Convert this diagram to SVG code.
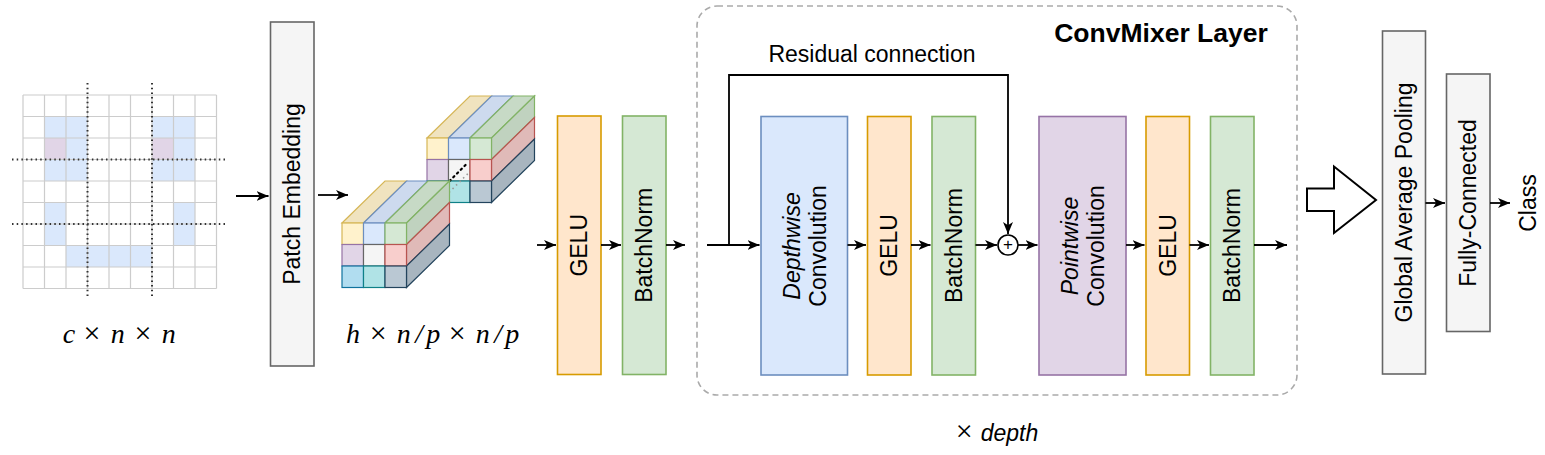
<svg xmlns="http://www.w3.org/2000/svg" width="1545" height="455" viewBox="0 0 1545 455">
<defs>
<marker id="ah" markerUnits="userSpaceOnUse" markerWidth="13" markerHeight="11" refX="12" refY="5.5" orient="auto">
<path d="M0,0.5 L12,5.5 L0,10.5 L3.2,5.5 Z" fill="#000"/>
</marker>
<style>
.t{font-family:"Liberation Sans",Arial,sans-serif;font-size:23px;fill:#000}
.m{font-family:"Liberation Serif","Times New Roman",serif;font-size:28px;fill:#000;text-anchor:middle}
.mi{font-style:italic}
.x{font-size:30px}
.box{stroke-width:1.6}
.gelu{fill:#ffe6cc;stroke:#d79b00}
.bn{fill:#d5e8d4;stroke:#82b366}
.gray{fill:#f5f5f5;stroke:#666666}
.dw{fill:#dae8fc;stroke:#6c8ebf}
.pw{fill:#e1d5e7;stroke:#9673a6}
.conn{fill:none;stroke:#000;stroke-width:1.8}
.dot{fill:none;stroke:#333;stroke-width:2;stroke-dasharray:1.5 3.2}
.c{stroke-width:1.2}
</style>
</defs>

<g id="input-grid">
<g fill="#dae8fc">
<rect x="44.5" y="116.5" width="43" height="21.5"/>
<rect x="152" y="116.5" width="43" height="21.5"/>
<rect x="66" y="138" width="21.5" height="21.5"/>
<rect x="173.5" y="138" width="21.5" height="21.5"/>
<rect x="44.5" y="159.5" width="43" height="21.5"/>
<rect x="152" y="159.5" width="43" height="21.5"/>
<rect x="44.5" y="202.5" width="21.5" height="43"/>
<rect x="173.5" y="202.5" width="21.5" height="43"/>
<rect x="66" y="245.5" width="86" height="21.5"/>
</g>
<g fill="#e1d5e7">
<rect x="44.5" y="138" width="21.5" height="21.5"/>
<rect x="152" y="138" width="21.5" height="21.5"/>
</g>
<path fill="none" stroke="#cccccc" stroke-width="1.2" d="M23,95V288.5M44.5,95V288.5M66,95V288.5M87.5,95V288.5M109,95V288.5M130.5,95V288.5M152,95V288.5M173.5,95V288.5M195,95V288.5M216.5,95V288.5M23,95H216.5M23,116.5H216.5M23,138H216.5M23,159.5H216.5M23,181H216.5M23,202.5H216.5M23,224H216.5M23,245.5H216.5M23,267H216.5M23,288.5H216.5"/>
<path class="dot" d="M87.5,83V298M152,83V298M12,159.5H227M12,224H227"/>
<text class="m"><tspan class="mi" x="69" y="343">c</tspan><tspan class="x" x="92" y="343">×</tspan><tspan class="mi" x="117.7" y="343">n</tspan><tspan class="x" x="143" y="343">×</tspan><tspan class="mi" x="168.7" y="343">n</tspan></text>
</g>

<g id="patch-embedding">
<rect class="box gray" x="270.5" y="22" width="43.5" height="344"/>
<text class="t" text-anchor="middle" dominant-baseline="central" transform="translate(292.3,194) rotate(-90)">Patch Embedding</text>
</g>

<g id="patch-tensor">
<g class="c">
<polygon points="427,138 448.5,138 491.5,96 470,96" fill="#f0e3bf" stroke="#d6b656"/>
<polygon points="448.5,138 470,138 513,96 491.5,96" fill="#cddaee" stroke="#6c8ebf"/>
<polygon points="470,138 491.5,138 534.5,96 513,96" fill="#c7dac6" stroke="#82b366"/>
<polygon points="491.5,138 534.5,96 534.5,117.5 491.5,159.5" fill="#c0d2bf" stroke="#82b366"/>
<polygon points="491.5,159.5 534.5,117.5 534.5,139 491.5,181" fill="#e0bab8" stroke="#b85450"/>
<polygon points="491.5,181 534.5,139 534.5,160.5 491.5,202.5" fill="#a8b5bf" stroke="#23445d"/>
<rect x="427" y="138" width="21.5" height="21.5" fill="#fff2cc" stroke="#d6b656"/>
<rect x="448.5" y="138" width="21.5" height="21.5" fill="#dae8fc" stroke="#6c8ebf"/>
<rect x="470" y="138" width="21.5" height="21.5" fill="#d5e8d4" stroke="#82b366"/>
<rect x="427" y="159.5" width="21.5" height="21.5" fill="#e1d5e7" stroke="#9673a6"/>
<rect x="448.5" y="159.5" width="21.5" height="21.5" fill="#f5f5f5" stroke="#666666"/>
<rect x="470" y="159.5" width="21.5" height="21.5" fill="#f8cecc" stroke="#b85450"/>
<rect x="427" y="181" width="21.5" height="21.5" fill="#b1ddf0" stroke="#10739e"/>
<rect x="448.5" y="181" width="21.5" height="21.5" fill="#b0e3e6" stroke="#0e8088"/>
<rect x="470" y="181" width="21.5" height="21.5" fill="#bac8d3" stroke="#23445d"/>
</g>
<path d="M449,192.5L470,171.5" fill="none" stroke="#999" stroke-width="1.6" stroke-dasharray="1.5 3.5"/>
<path d="M449.5,181L466,164.5" fill="none" stroke="#000" stroke-width="2.2" stroke-dasharray="1.5 3.8" stroke-linecap="round"/>
<g class="c">
<polygon points="342,223 363.5,223 406.5,181 385,181" fill="#f0e3bf" stroke="#d6b656"/>
<polygon points="363.5,223 385,223 428,181 406.5,181" fill="#cddaee" stroke="#6c8ebf"/>
<polygon points="385,223 406.5,223 449.5,181 428,181" fill="#c7dac6" stroke="#82b366"/>
<polygon points="406.5,223 449.5,181 449.5,202.5 406.5,244.5" fill="#c0d2bf" stroke="#82b366"/>
<polygon points="406.5,244.5 449.5,202.5 449.5,224 406.5,266" fill="#e0bab8" stroke="#b85450"/>
<polygon points="406.5,266 449.5,224 449.5,245.5 406.5,287.5" fill="#a8b5bf" stroke="#23445d"/>
<rect x="342" y="223" width="21.5" height="21.5" fill="#fff2cc" stroke="#d6b656"/>
<rect x="363.5" y="223" width="21.5" height="21.5" fill="#dae8fc" stroke="#6c8ebf"/>
<rect x="385" y="223" width="21.5" height="21.5" fill="#d5e8d4" stroke="#82b366"/>
<rect x="342" y="244.5" width="21.5" height="21.5" fill="#e1d5e7" stroke="#9673a6"/>
<rect x="363.5" y="244.5" width="21.5" height="21.5" fill="#f5f5f5" stroke="#666666"/>
<rect x="385" y="244.5" width="21.5" height="21.5" fill="#f8cecc" stroke="#b85450"/>
<rect x="342" y="266" width="21.5" height="21.5" fill="#b1ddf0" stroke="#10739e"/>
<rect x="363.5" y="266" width="21.5" height="21.5" fill="#b0e3e6" stroke="#0e8088"/>
<rect x="385" y="266" width="21.5" height="21.5" fill="#bac8d3" stroke="#23445d"/>
</g>
<text class="m"><tspan class="mi" x="353.1" y="343">h</tspan><tspan class="x" x="378.2" y="343">×</tspan><tspan class="mi" x="403.7" y="343">n</tspan><tspan class="mi" x="419.1" y="343">/</tspan><tspan class="mi" x="433.2" y="343">p</tspan><tspan class="x" x="457.3" y="343">×</tspan><tspan class="mi" x="482.8" y="343">n</tspan><tspan class="mi" x="498.2" y="343">/</tspan><tspan class="mi" x="512.3" y="343">p</tspan></text>
</g>

<g id="gelu-1">
<rect class="box gelu" x="557.5" y="116" width="43.5" height="258.5"/>
<text class="t" text-anchor="middle" dominant-baseline="central" transform="translate(579.3,245.3) rotate(-90)">GELU</text>
</g>
<g id="batchnorm-1">
<rect class="box bn" x="622.5" y="116" width="43.5" height="258.5"/>
<text class="t" text-anchor="middle" dominant-baseline="central" transform="translate(644.3,245.3) rotate(-90)">BatchNorm</text>
</g>

<g id="convmixer-layer">
<rect x="697" y="6" width="600" height="389" rx="20" ry="20" fill="none" stroke="#aaaaaa" stroke-width="1.6" stroke-dasharray="6 4"/>
<text class="t" x="1161" y="42" text-anchor="middle" font-weight="bold" style="font-size:26.5px">ConvMixer Layer</text>
<text class="t" x="872" y="62" text-anchor="middle">Residual connection</text>
<text class="t" x="997" y="441" text-anchor="middle"><tspan font-family="Liberation Serif, serif" style="font-size:30px">×</tspan><tspan dx="8" font-style="italic">depth</tspan></text>
</g>

<g id="depthwise-conv">
<rect class="box dw" x="761" y="116.5" width="86.5" height="258.5"/>
<text class="t" text-anchor="middle" dominant-baseline="central" transform="translate(804.5,246) rotate(-90)"><tspan x="0" y="-13" font-style="italic">Depthwise</tspan><tspan x="0" y="13">Convolution</tspan></text>
</g>
<g id="gelu-2">
<rect class="box gelu" x="867.5" y="116.5" width="43.5" height="258.5"/>
<text class="t" text-anchor="middle" dominant-baseline="central" transform="translate(889.3,245.5) rotate(-90)">GELU</text>
</g>
<g id="batchnorm-2">
<rect class="box bn" x="932" y="116.5" width="43.5" height="258.5"/>
<text class="t" text-anchor="middle" dominant-baseline="central" transform="translate(953.8,245.5) rotate(-90)">BatchNorm</text>
</g>
<g id="add">
<circle cx="1008" cy="245" r="10" fill="#fff" stroke="#000" stroke-width="1.6"/>
<text x="1008" y="244" text-anchor="middle" dominant-baseline="central" font-family="Liberation Sans, sans-serif" font-size="17">+</text>
</g>
<g id="pointwise-conv">
<rect class="box pw" x="1039" y="116.5" width="87" height="258.5"/>
<text class="t" text-anchor="middle" dominant-baseline="central" transform="translate(1083,246) rotate(-90)"><tspan x="0" y="-13" font-style="italic">Pointwise</tspan><tspan x="0" y="13">Convolution</tspan></text>
</g>
<g id="gelu-3">
<rect class="box gelu" x="1146" y="116.5" width="43.5" height="258.5"/>
<text class="t" text-anchor="middle" dominant-baseline="central" transform="translate(1167.8,245.5) rotate(-90)">GELU</text>
</g>
<g id="batchnorm-3">
<rect class="box bn" x="1210.5" y="116.5" width="43.5" height="258.5"/>
<text class="t" text-anchor="middle" dominant-baseline="central" transform="translate(1232.3,245.5) rotate(-90)">BatchNorm</text>
</g>

<g id="hollow-arrow">
<polygon points="1307,188.5 1334,188.5 1334,166.5 1376,200 1334,233 1334,211 1307,211" fill="#fff" stroke="#000" stroke-width="2"/>
</g>
<g id="global-average-pooling">
<rect class="box gray" x="1382.5" y="31" width="43" height="343"/>
<text class="t" text-anchor="middle" dominant-baseline="central" transform="translate(1404,202.5) rotate(-90)">Global Average Pooling</text>
</g>
<g id="fully-connected">
<rect class="box gray" x="1446.5" y="74" width="43.5" height="257.5"/>
<text class="t" text-anchor="middle" dominant-baseline="central" transform="translate(1468.3,203) rotate(-90)">Fully-Connected</text>
</g>
<g id="class">
<text class="t" text-anchor="middle" dominant-baseline="central" transform="translate(1528,203) rotate(-90)">Class</text>
</g>

<g id="connectors">
<path class="conn" marker-end="url(#ah)" d="M236,196H268.5"/>
<path class="conn" marker-end="url(#ah)" d="M318,195H348"/>
<path class="conn" marker-end="url(#ah)" d="M537,245H556"/>
<path class="conn" marker-end="url(#ah)" d="M601,245H621"/>
<path class="conn" marker-end="url(#ah)" d="M666,245H685"/>
<path class="conn" marker-end="url(#ah)" d="M707,245H759.5"/>
<path class="conn" marker-end="url(#ah)" d="M729,245V75H1008V234"/>
<path class="conn" marker-end="url(#ah)" d="M847.5,245H866"/>
<path class="conn" marker-end="url(#ah)" d="M911,245H930.5"/>
<path class="conn" marker-end="url(#ah)" d="M975.5,245H997"/>
<path class="conn" marker-end="url(#ah)" d="M1018,245H1037.5"/>
<path class="conn" marker-end="url(#ah)" d="M1126,245H1144.5"/>
<path class="conn" marker-end="url(#ah)" d="M1189.5,245H1209"/>
<path class="conn" marker-end="url(#ah)" d="M1254,245H1287"/>
<path class="conn" marker-end="url(#ah)" d="M1425.5,203H1445"/>
<path class="conn" marker-end="url(#ah)" d="M1490,203H1510"/>
</g>
</svg>
